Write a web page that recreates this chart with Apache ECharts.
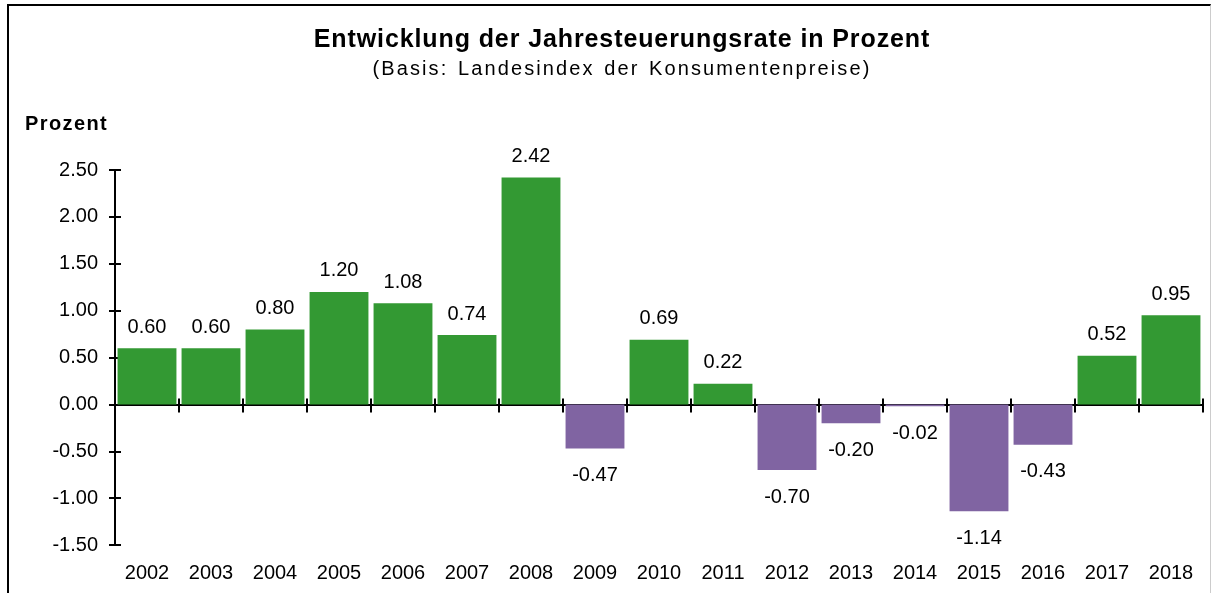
<!DOCTYPE html>
<html>
<head>
<meta charset="utf-8">
<script src="https://cdn.jsdelivr.net/npm/echarts@6/dist/echarts.min.js"></script>
<style>
    html, body { margin: 0; padding: 0; background: #fff; }
    #frame {
        position: absolute; left: 7px; top: 4px; width: 1204px; height: 600px;
        border-top: 2px solid #000; border-left: 2px solid #000; border-right: 1px solid #ccc;
        box-sizing: border-box;
    }
    #main { position: absolute; left: 0; top: 0; width: 1213px; height: 593px; }
    .txt {
        position: absolute; font-family: 'Liberation Sans', Arial, sans-serif; color: #000;
        white-space: nowrap; line-height: 1; z-index: 2;
    }
    #title { left: 0; width: 1244px; text-align: center; top: 26px; font-size: 25px; font-weight: bold; letter-spacing: 0.9px; }
    #subtitle { left: 0; width: 1244px; text-align: center; top: 58px; font-size: 20px; letter-spacing: 2.1px; word-spacing: 2px; }
    #unit { left: 25px; top: 113px; font-size: 20px; font-weight: bold; letter-spacing: 1.4px; }
</style>
</head>
<body>
<div id="frame"></div>
<div id="main"></div>
<div class="txt" id="title">Entwicklung der Jahresteuerungsrate in Prozent</div>
<div class="txt" id="subtitle">(Basis: Landesindex der Konsumentenpreise)</div>
<div class="txt" id="unit">Prozent</div>
<script>
    // data
    const years = ['2002', '2003', '2004', '2005', '2006', '2007', '2008', '2009', '2010',
        '2011', '2012', '2013', '2014', '2015', '2016', '2017', '2018'];
    const rates = [0.60, 0.60, 0.80, 1.20, 1.08, 0.74, 2.42, -0.47, 0.69,
        0.22, -0.70, -0.20, -0.02, -1.14, -0.43, 0.52, 0.95];

    const FONT = 'Liberation Sans, Arial, sans-serif';
    const GREEN = '#339933';
    const PURPLE = '#8064A2';

    const barData = rates.map(v => ({
        value: v,
        itemStyle: { color: v >= 0 ? GREEN : PURPLE },
        label: { position: v >= 0 ? 'top' : 'bottom', distance: v >= 0 ? 11 : 17 }
    }));

    const axisLineStyle = { color: '#000', width: 2 };

    const chart = echarts.init(document.getElementById('main'));
    chart.setOption({
        animation: false,
        textStyle: { fontFamily: FONT },
        grid: { left: 115, right: 10, top: 170, bottom: 48 },
        xAxis: [
            {
                type: 'category',
                data: years,
                axisLine: { onZero: true, lineStyle: axisLineStyle },
                axisTick: { show: true, length: 8, lineStyle: axisLineStyle },
                axisLabel: { show: false }
            },
            {
                type: 'category',
                data: years,
                position: 'bottom',
                axisLine: { show: false, onZero: true },
                axisTick: { show: true, inside: true, length: 6, lineStyle: axisLineStyle },
                axisLabel: { show: false }
            }
        ],
        yAxis: [
            {
                type: 'value',
                min: -1.5, max: 2.5, interval: 0.5,
                axisLine: { show: true, onZero: false, lineStyle: axisLineStyle },
                axisTick: { show: true, length: 6, lineStyle: axisLineStyle },
                axisLabel: {
                    color: '#000', fontSize: 20, margin: 17,
                    formatter: v => v.toFixed(2)
                },
                splitLine: { show: false }
            },
            {
                type: 'value',
                position: 'left',
                min: -1.5, max: 2.5, interval: 0.5,
                axisLine: { show: false },
                axisTick: { show: true, inside: true, length: 6, lineStyle: axisLineStyle },
                axisLabel: { show: false },
                splitLine: { show: false }
            }
        ],
        graphic: years.map((y, i) => ({
            type: 'text',
            style: {
                text: y, fontSize: 20, fontFamily: FONT, fill: '#000',
                textAlign: 'center', textVerticalAlign: 'middle'
            },
            x: 115 + (1088 / years.length) * (i + 0.5),
            y: 573
        })),
        series: [
            {
                type: 'bar',
                data: barData,
                barCategoryGap: '8%',
                label: {
                    show: true, color: '#000', fontSize: 20,
                    formatter: p => p.value.toFixed(2)
                }
            }
        ]
    });
</script>
</body>
</html>
